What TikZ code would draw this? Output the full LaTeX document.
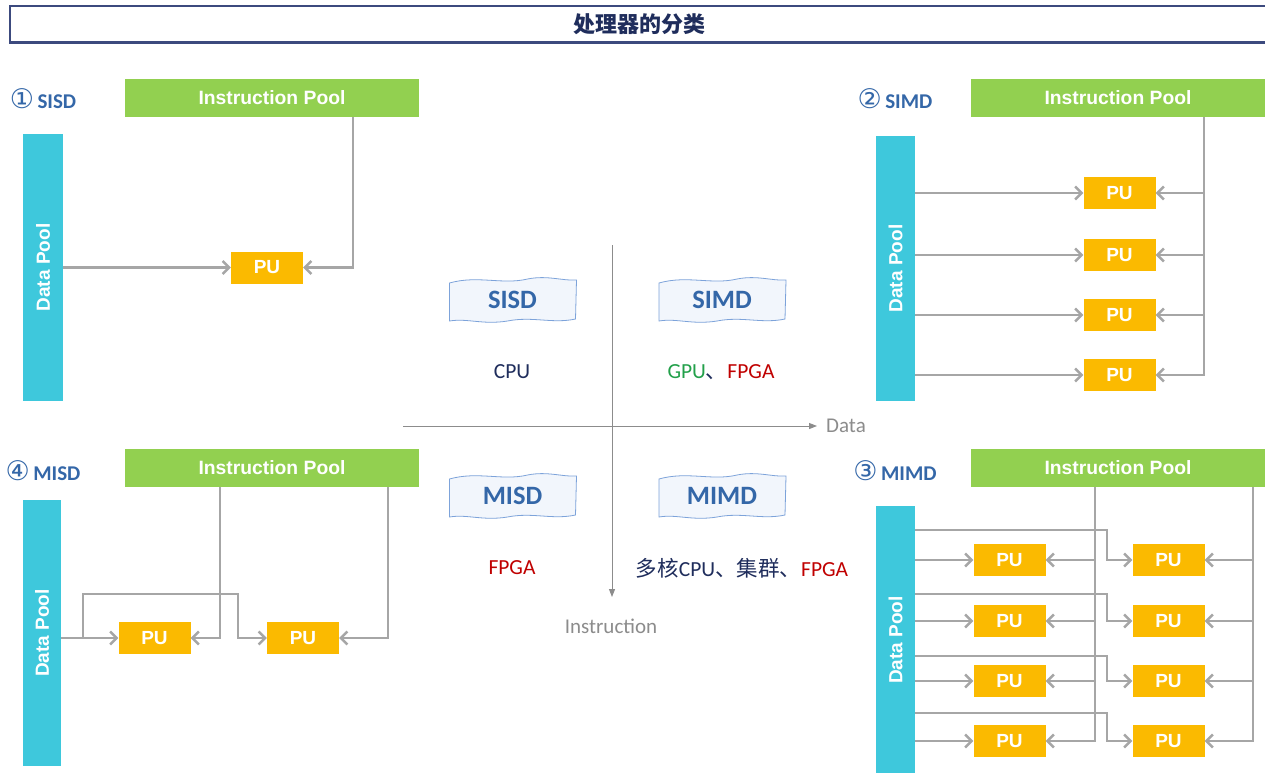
\documentclass[tikz,border=0pt]{standalone}
\usepackage{graphicx}
\usepackage{fontspec}
\setmainfont{Liberation Sans}
\newfontfamily\calfont{Carlito}
\newfontfamily\cjkfont{Noto Sans CJK SC}
\newfontfamily\symfont{DejaVu Sans}
\usetikzlibrary{arrows.meta,calc}
\definecolor{poolgreen}{HTML}{92D050}
\definecolor{poolcyan}{HTML}{3EC8DC}
\definecolor{pugold}{HTML}{FBBA00}
\definecolor{linegray}{HTML}{A6A6A6}
\definecolor{axisgray}{HTML}{8C8C8C}
\definecolor{navy}{HTML}{1F2D5C}
\definecolor{titlenavy}{HTML}{3C4A7E}
\definecolor{labelblue}{HTML}{3467A8}
\definecolor{wavefill}{HTML}{F2F6FC}
\definecolor{waveborder}{HTML}{7DA3DA}
\definecolor{gpugreen}{HTML}{22A04A}
\definecolor{fpgared}{HTML}{C00000}
\newcommand{\circnum}[1]{{\symfont\mdseries\fontsize{27}{24}\selectfont #1}}
\tikzset{
  wavebox/.pic={
    \path[fill=wavefill, draw=waveborder, line width=0.8pt]
      (-63,-17) .. controls (-35,-25) and (-10,-15) .. (15,-21)
      .. controls (35,-25) and (50,-19) .. (64,-20)
      -- (63,19)
      .. controls (40,24) and (20,16) .. (-5,21)
      .. controls (-30,25) and (-45,18) .. (-63,21) -- cycle;
  }
}
\begin{document}
\begin{tikzpicture}[x=1pt,y=-1pt,
  ipool/.style={fill=poolgreen, text=white, font=\bfseries\fontsize{19.3}{21}\selectfont,
    minimum width=294pt, minimum height=38pt, inner sep=0pt},
  dpool/.style={fill=poolcyan, text=white, font=\bfseries\fontsize{19}{21}\selectfont,
    minimum width=40pt, inner sep=0pt},
  pu/.style={fill=pugold, text=white, font=\bfseries\fontsize{19}{21}\selectfont,
    minimum width=72pt, minimum height=32pt, inner sep=0pt},
  conn/.style={draw=linegray, line width=2.4pt},
  arr/.style={conn, -{Straight Barb[length=6.5pt,width=13pt]}},
  axisline/.style={draw=axisgray, line width=1pt, -{Triangle[length=8pt,width=6pt]}},
  quadlabel/.style={font=\calfont\bfseries\fontsize{21}{24}\selectfont, text=labelblue, inner sep=0pt},
  wavelabel/.style={font=\calfont\bfseries\fontsize{26.5}{28}\selectfont, text=labelblue, inner sep=0pt},
  devlabel/.style={font=\calfont\fontsize{21.5}{24}\selectfont, text=navy, inner sep=0pt},
  axislabel/.style={font=\calfont\fontsize{21}{24}\selectfont, text=axisgray, inner sep=0pt}
]
\useasboundingbox (0,0) rectangle (1265,772);
\fill[white] (0,0) rectangle (1265,772);

% title bar
\node[draw=titlenavy, line width=1.5pt, fill=white, minimum width=1260pt, minimum height=36pt,
  anchor=north west, inner sep=0pt, font=\cjkfont\bfseries\fontsize{22}{24}\selectfont, text=navy]
  (title) at (9,5) {处理器的分类};
\draw[titlenavy, line width=2.5pt] (title.south west) -- (title.south east);

% ---------- SISD ----------
\node[quadlabel] (labA) at (43,99) {\circnum{①}\,SISD};
\node[ipool] (ipA) at (272,98) {Instruction Pool};
\node[dpool, minimum height=267pt] (dpA) at (43,267.5) {\rotatebox{90}{Data Pool}};
\node[pu] (puA) at (267,267.5) {PU};
\draw[arr] (dpA.east |- puA.west) -- (puA.west);
\coordinate (tA) at ([xshift=81pt]ipA.south);
\draw[arr] (tA) |- (puA.east);

% ---------- SIMD ----------
\node[quadlabel] (labB) at (895,99) {\circnum{②}\,SIMD};
\node[ipool] (ipB) at (1118,98) {Instruction Pool};
\node[dpool, minimum height=265pt, minimum width=39pt] (dpB) at (895.5,268.5) {\rotatebox{90}{Data Pool}};
\foreach \i/\y in {1/193,2/255,3/315,4/375}
  \node[pu] (puB\i) at (1119.5,\y) {PU};
\coordinate (tB) at ([xshift=86pt]ipB.south);
\draw[arr] (tB) |- (puB4.east);
\foreach \i in {1,2,3}
  \draw[arr] (tB |- puB\i.east) -- (puB\i.east);
\foreach \i in {1,2,3,4}
  \draw[arr] (dpB.east |- puB\i.west) -- (puB\i.west);

% ---------- MISD ----------
\node[quadlabel] (labD) at (43,471) {\circnum{④}\,MISD};
\node[ipool] (ipD) at (272,468) {Instruction Pool};
\node[dpool, minimum height=266pt, minimum width=38pt] (dpD) at (42,633) {\rotatebox{90}{Data Pool}};
\node[pu] (puD1) at (154.5,638) {PU};
\node[pu] (puD2) at (303,638) {PU};
\draw[arr] (dpD.east |- puD1.west) -- (puD1.west);
\coordinate (bD) at ($(dpD.east |- puD1.west)+(22,0)$);
\coordinate (cD) at (238,594);
\draw[arr] (bD) |- (cD) |- (puD2.west);
\coordinate (tD1) at ([xshift=-52pt]ipD.south);
\coordinate (tD2) at ([xshift=116pt]ipD.south);
\draw[arr] (tD1) |- (puD1.east);
\draw[arr] (tD2) |- (puD2.east);

% ---------- MIMD ----------
\node[quadlabel] (labC) at (895,471) {\circnum{③}\,MIMD};
\node[ipool] (ipC) at (1118,468) {Instruction Pool};
\node[dpool, minimum height=268pt, minimum width=39pt] (dpC) at (895.5,640) {\rotatebox{90}{Data Pool}};
\foreach \i/\y in {1/560,2/621,3/681,4/741} {
  \node[pu] (puL\i) at (1009.5,\y) {PU};
  \node[pu] (puR\i) at (1168.5,\y) {PU};
}
\coordinate (tL) at ([xshift=-23pt]ipC.south);
\coordinate (tR) at ([xshift=135pt]ipC.south);
\draw[arr] (tL) |- (puL4.east);
\draw[arr] (tR) |- (puR4.east);
\foreach \i in {1,2,3} {
  \draw[arr] (tL |- puL\i.east) -- (puL\i.east);
  \draw[arr] (tR |- puR\i.east) -- (puR\i.east);
}
\foreach \i in {1,2,3,4}
  \draw[arr] (dpC.east |- puL\i.west) -- (puL\i.west);
\foreach \i/\y in {1/530,2/594,3/656,4/713} {
  \coordinate (sR\i) at (dpC.east |- 0,\y);
  \coordinate (kR\i) at (1107,\y);
  \draw[arr] (sR\i) -- (kR\i) |- (puR\i.west);
}

% ---------- centre axes ----------
\coordinate (axT) at (612,245);
\coordinate (axB) at (612,597);
\coordinate (axL) at (403,426);
\coordinate (axR) at (817,426);
\draw[axisline] (axT) -- (axB);
\draw[axisline] (axL) -- (axR);
\node[axislabel, anchor=west] (dataLab) at (826,426) {Data};
\node[axislabel] (instrLab) at (611,626) {Instruction};

% wavy category boxes
\pic at (512.5,300) {wavebox};
\pic at (722,300) {wavebox};
\pic at (512.5,496) {wavebox};
\pic at (722,496) {wavebox};
\node[wavelabel] (wSISD) at (512.5,300) {SISD};
\node[wavelabel] (wSIMD) at (722,300) {SIMD};
\node[wavelabel] (wMISD) at (512.5,496) {MISD};
\node[wavelabel] (wMIMD) at (722,496) {MIMD};

% device labels
\node[devlabel] (devA) at (512,372) {CPU};
\node[devlabel] (devB) at (721,372) {\textcolor{gpugreen}{GPU}{\cjkfont 、}\textcolor{fpgared}{FPGA}};
\node[devlabel, text=fpgared] (devD) at (512,568) {FPGA};
\node[devlabel] (devC) at (742,568) {{\cjkfont 多核}CPU{\cjkfont 、集群、}\textcolor{fpgared}{FPGA}};
\end{tikzpicture}
\end{document}
